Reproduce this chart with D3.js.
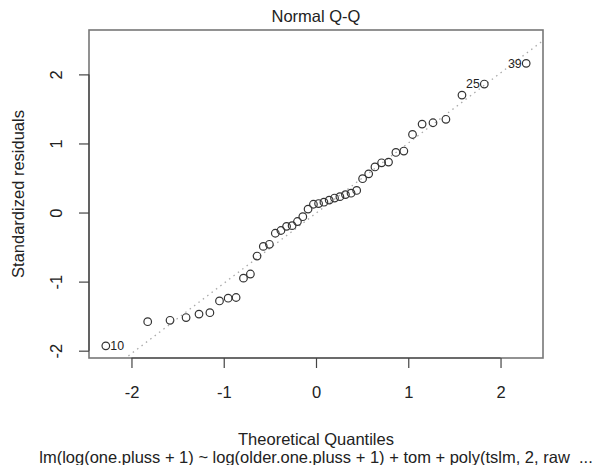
<!DOCTYPE html>
<html>
<head>
<meta charset="utf-8">
<script src="https://cdn.jsdelivr.net/npm/d3@7"></script>
<style>
  body { margin: 0; background: #fff; }
  svg text { font-family: "Liberation Sans", Arial, sans-serif; fill: #222; }
</style>
</head>
<body>
<svg id="chart" width="593" height="465"></svg>
<script>
// theoretical normal quantiles (x) and sorted standardized residuals (y)
const theoretical = [-2.278, -1.824, -1.582, -1.408, -1.268, -1.150, -1.046, -0.952, -0.866, -0.786,
  -0.711, -0.639, -0.571, -0.505, -0.441, -0.380, -0.319, -0.259, -0.201, -0.143, -0.086, -0.028,
  0.028, 0.086, 0.143, 0.201, 0.259, 0.319, 0.380, 0.441, 0.505, 0.571, 0.639, 0.711, 0.786,
  0.866, 0.952, 1.046, 1.150, 1.268, 1.408, 1.582, 1.824, 2.278];
const residuals = [-1.93, -1.58, -1.56, -1.52, -1.47, -1.45, -1.28, -1.24, -1.23, -0.95,
  -0.89, -0.63, -0.49, -0.46, -0.30, -0.26, -0.20, -0.19, -0.13, -0.06, 0.05, 0.12,
  0.13, 0.15, 0.18, 0.21, 0.23, 0.26, 0.28, 0.32, 0.49, 0.56, 0.66, 0.72, 0.73,
  0.87, 0.89, 1.13, 1.28, 1.30, 1.35, 1.70, 1.86, 2.16];
const idRanks = [0, 42, 43];
const idLabels = ["10", "25", "39"];
const xTicks = [-2, -1, 0, 1, 2];
const yTicks = [-2, -1, 0, 1, 2];

const title = "Normal Q-Q";
const xTitle = "Theoretical Quantiles";
const yTitle = "Standardized residuals";
const subTitle = "lm(log(one.pluss + 1) ~ log(older.one.pluss + 1) + tom + poly(tslm, 2, raw  ...";

const box = {left: 89, right: 543, top: 30, bottom: 358};
const fs = 16.5;

// R style limits: extend 4%, y gets extra room for labels
function pad(lim) {
  const d = (lim[1] - lim[0]) * 0.04;
  return [lim[0] - d, lim[1] + d];
}
const xl = d3.extent(theoretical);
const yl = d3.extent(residuals);
yl[1] += (yl[1] - yl[0]) * 0.075;

const x = d3.scaleLinear().domain(pad(xl)).range([box.left, box.right]);
const y = d3.scaleLinear().domain(pad(yl)).range([box.bottom, box.top]);

const svg = d3.select("#chart");

svg.append("defs").append("clipPath").attr("id", "clip")
  .append("rect")
  .attr("x", box.left).attr("y", box.top)
  .attr("width", box.right - box.left).attr("height", box.bottom - box.top);

// qqline through quartiles
const q1 = d3.quantile(residuals, 0.25), q3 = d3.quantile(residuals, 0.75);
const z = 0.6744898;
const slope = (q3 - q1) / (2 * z);
const intercept = q1 + z * slope;
const xd = x.domain();
svg.append("line")
  .attr("clip-path", "url(#clip)")
  .attr("x1", x(xd[0])).attr("y1", y(intercept + slope * xd[0]))
  .attr("x2", x(xd[1])).attr("y2", y(intercept + slope * xd[1]))
  .attr("stroke", "#aaa")
  .attr("stroke-width", 1.3)
  .attr("stroke-dasharray", "1.5,4");

// points
svg.append("g").selectAll("circle")
  .data(residuals)
  .join("circle")
  .attr("cx", (d, i) => x(theoretical[i]))
  .attr("cy", d => y(d))
  .attr("r", 3.8)
  .attr("fill", "none")
  .attr("stroke", "#333")
  .attr("stroke-width", 1.2);

// id labels: left of point if right of centre, else right
const mx = d3.mean(theoretical);
svg.append("g").selectAll("text")
  .data(idRanks)
  .join("text")
  .attr("x", r => theoretical[r] > mx ? x(theoretical[r]) - 4.5 : x(theoretical[r]) + 4.5)
  .attr("y", r => y(residuals[r]))
  .attr("dy", "0.35em")
  .attr("text-anchor", r => theoretical[r] > mx ? "end" : "start")
  .style("font-size", (fs * 0.75) + "px")
  .text((r, i) => idLabels[i]);

// plot frame
svg.append("rect")
  .attr("x", box.left).attr("y", box.top)
  .attr("width", box.right - box.left).attr("height", box.bottom - box.top)
  .attr("fill", "none")
  .attr("stroke", "#777")
  .attr("stroke-width", 1.6);

// axes (plain hyphen minus like R)
const fmt = d => String(d);
const xAxis = svg.append("g")
  .attr("transform", `translate(0,${box.bottom})`)
  .call(d3.axisBottom(x).tickValues(xTicks).tickSize(10).tickFormat(fmt));
const yAxis = svg.append("g")
  .attr("transform", `translate(${box.left},0)`)
  .call(d3.axisLeft(y).tickValues(yTicks).tickSize(10).tickFormat(fmt));

[xAxis, yAxis].forEach(g => {
  g.select(".domain").attr("stroke", "#444").attr("stroke-width", 1.2);
  g.selectAll(".tick line").attr("stroke", "#444").attr("stroke-width", 1.2);
  g.selectAll("text").style("font-size", fs + "px").attr("fill", "#222")
    .style("font-family", "'Liberation Sans', Arial, sans-serif");
});
// R draws the axis line only from first to last tick
xAxis.select(".domain").attr("d", `M${x(xTicks[0])},0H${x(xTicks[xTicks.length - 1])}`);
yAxis.select(".domain").attr("d", `M0,${y(yTicks[0])}V${y(yTicks[yTicks.length - 1])}`);
xAxis.selectAll(".tick text").attr("dy", "0.32em").attr("y", 35);

// rotated y tick labels
yAxis.selectAll(".tick text")
  .attr("x", null).attr("dy", null)
  .attr("text-anchor", "middle")
  .attr("transform", "translate(-27,0) rotate(-90)");

// titles
svg.append("text")
  .attr("x", (box.left + box.right) / 2).attr("y", 21.5)
  .attr("text-anchor", "middle")
  .style("font-size", fs + "px")
  .text(title);

svg.append("text")
  .attr("x", (box.left + box.right) / 2).attr("y", 444.5)
  .attr("text-anchor", "middle")
  .style("font-size", fs + "px")
  .text(xTitle);

svg.append("text")
  .attr("x", (box.left + box.right) / 2).attr("y", 463)
  .attr("text-anchor", "middle")
  .attr("xml:space", "preserve")
  .style("white-space", "pre")
  .style("font-size", fs + "px")
  .text(subTitle);

svg.append("text")
  .attr("transform", `translate(24,${(box.top + box.bottom) / 2}) rotate(-90)`)
  .attr("text-anchor", "middle")
  .style("font-size", fs + "px")
  .text(yTitle);
</script>
</body>
</html>
